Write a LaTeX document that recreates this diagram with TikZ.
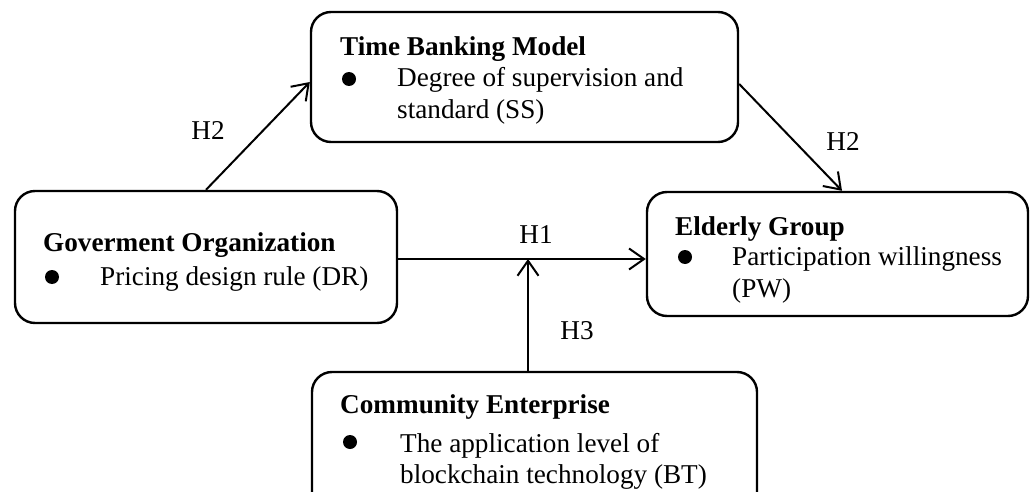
\documentclass[tikz,border=0pt]{standalone}
\usepackage{fontspec}
\setmainfont{Liberation Serif}
\usetikzlibrary{arrows.meta}
\begin{document}
\begin{tikzpicture}[x=1pt,y=-1pt,
  box/.style={draw, line width=2.4pt, rounded corners=20pt, inner sep=0pt},
  txt/.style={anchor=base west, inner sep=0pt, font=\fontsize{27.2}{31}\selectfont},
  ttl/.style={txt, font=\fontsize{27.2}{31}\selectfont\bfseries},
  lbl/.style={inner sep=0pt, font=\fontsize{27.2}{31}\selectfont},
  dot/.style={circle, fill, inner sep=0pt, minimum size=14pt},
  conn/.style={line width=2pt, -{Straight Barb[length=15pt,width=21pt,line width=2pt]}}]
\useasboundingbox (0,0) rectangle (1030,492);
\clip (0,0) rectangle (1030,492);
% boxes
\node[box, minimum width=427pt, minimum height=130pt] (tb) at (524.5,77) {};
\node[box, minimum width=382pt, minimum height=132pt] (gov) at (206,257) {};
\node[box, minimum width=381pt, minimum height=124pt] (eld) at (837.5,254) {};
\node[box, minimum width=445pt, minimum height=140pt] (com) at (534.5,442) {};
% texts
\node[ttl] (tbt) at (340,56) {Time Banking Model};
\node[dot] (tbd) at (349,79) {};
\node[txt] (tb1) at (397,87) {Degree of supervision and};
\node[txt] (tb2) at (397,118) {standard (SS)};
\node[ttl] (govt) at (43,251) {Goverment Organization};
\node[dot] (govd) at (52,277) {};
\node[txt] (gov1) at (100,285) {Pricing design rule (DR)};
\node[ttl] (eldt) at (675,235) {Elderly Group};
\node[dot] (eldd) at (685,257) {};
\node[txt] (eld1) at (732,265) {Participation willingness};
\node[txt] (eld2) at (732,297) {(PW)};
\node[ttl] (comt) at (340,413) {Community Enterprise};
\node[dot] (comd) at (350,442) {};
\node[txt] (com1) at (400,452) {The application level of};
\node[txt] (com2) at (400,483) {blockchain technology (BT)};
% connectors
\coordinate (h1s) at ([yshift=-2pt]gov.east);
\coordinate (m) at (528,259);
\draw[conn] (gov.north) -- ([yshift=-5pt]tb.west);
\draw[conn] ([yshift=-7pt]tb.east) -- ([xshift=4.5pt]eld.north);
\draw[conn] (h1s) -- (h1s -| eld.west);
\draw[conn] (com.north -| m) -- (m);
% labels
\node[lbl] (l1) at (208,130) {H2};
\node[lbl] (l2) at (843,141) {H2};
\node[lbl] (l3) at (536,235) {H1};
\node[lbl] (l4) at (577,331) {H3};
\end{tikzpicture}
\end{document}
